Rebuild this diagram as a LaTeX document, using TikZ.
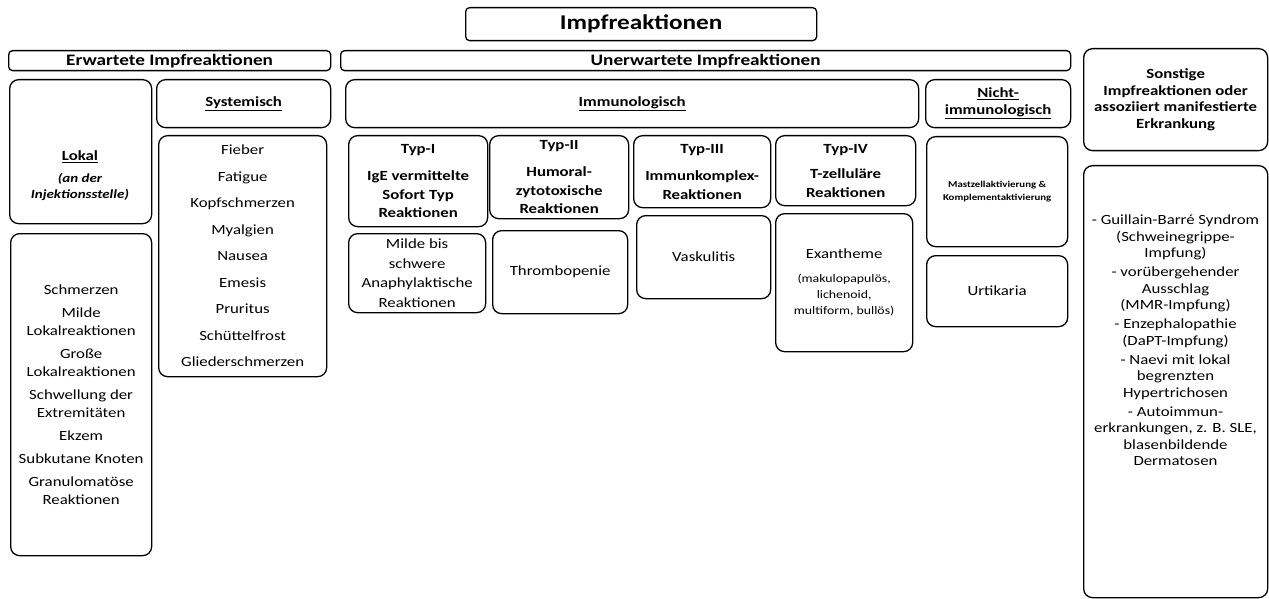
\documentclass[tikz,border=0pt]{standalone}
\usepackage{fontspec}
\setmainfont{Carlito}[FakeStretch=1.2]
\newcommand\fs[2]{\fontsize{#1}{#2}\selectfont}
\newcommand\injf{\bfseries\itshape\fs{12.5}{14.5}}
\newcommand\exf{\fs{11.5}{16.5}}
\newcommand\bx[7]{\node[box,minimum width={(#4-#2)*1pt},minimum height={(#5-#3)*1pt},#6] (#1) at (#2,#3) {#7};}
\tikzset{
 box/.style={draw, line width=1.3pt, rounded corners=9pt, align=center, inner sep=0pt, anchor=north west, font=\fs{14}{18}},
 bar/.style={rounded corners=4pt},
 hd/.style={font=\bfseries\fs{14}{18.5}},
 txt/.style={align=center, inner sep=0pt},
}
\begin{document}
\begin{tikzpicture}[x=1pt,y=-1pt]
\useasboundingbox (0,0) rectangle (1269,599);
% top level
\bx{title}{465}{7}{816}{40}{bar,font=\bfseries\fs{21}{24}}{Impfreaktionen}
\bx{erw}{8}{50}{330}{70}{bar,font=\bfseries\fs{16}{18}}{Erwartete Impfreaktionen}
\bx{unerw}{340}{50}{1070}{70}{bar,font=\bfseries\fs{16}{18}}{Unerwartete Impfreaktionen}
% Erwartete
\bx{lokal}{9}{79}{151}{223}{}{}
\node[txt,font=\fs{14}{16}] (lokaltxt) at (80,176) {\bfseries\underline{Lokal}\\[6pt]\injf(an der\\\injf Injektionsstelle)};
\bx{lokallist}{10}{233}{151}{555}{}{Schmerzen\\[5pt]Milde\\Lokalreaktionen\\[5pt]Große\\Lokalreaktionen\\[5pt]Schwellung der\\Extremitäten\\[5pt]Ekzem\\[5pt]Subkutane Knoten\\[5pt]Granulomatöse\\Reaktionen}
\bx{sys}{156}{79}{330}{127}{hd}{\underline{Systemisch}}
\bx{syslist}{158}{135}{326}{376}{}{Fieber\\[8.5pt]Fatigue\\[8.5pt]Kopfschmerzen\\[8.5pt]Myalgien\\[8.5pt]Nausea\\[8.5pt]Emesis\\[8.5pt]Pruritus\\[8.5pt]Schüttelfrost\\[8.5pt]Gliederschmerzen}
% Unerwartete
\bx{immun}{345}{79}{918}{127}{hd}{\underline{Immunologisch}}
\bx{nicht}{925}{79}{1070}{127}{hd,font=\bfseries\fs{14}{17}}{\underline{Nicht-}\\\underline{immunologisch}}
\bx{typ1}{348}{135}{487}{226}{hd}{Typ-I\\[9pt]IgE vermittelte\\Sofort Typ\\Reaktionen}
\bx{typ2}{489}{135}{628}{218}{hd}{Typ-II\\[9pt]Humoral-\\zytotoxische\\Reaktionen}
\bx{typ3}{633}{135}{770}{207}{hd}{Typ-III\\[9pt]Immunkomplex-\\Reaktionen}
\bx{typ4}{775}{135}{915}{205}{hd}{Typ-IV\\[7pt]T-zelluläre\\Reaktionen}
\bx{milde}{348}{233}{485}{312}{font=\fs{14}{19.5}}{Milde bis\\schwere\\Anaphylaktische\\Reaktionen}
\bx{thromb}{492}{230}{627}{313}{}{Thrombopenie}
\bx{vask}{636}{215}{770}{298}{}{Vaskulitis}
\bx{exan}{775}{213}{912}{351}{font=\fs{14}{16}}{Exantheme\\[8pt]\exf(makulopapulös,\\\exf lichenoid,\\\exf multiform, bullös)}
\bx{mast}{926}{136}{1067}{246}{font=\bfseries\fs{9}{13}}{Mastzellaktivierung \&\\Komplementaktivierung}
\bx{urti}{926}{255}{1067}{326}{}{Urtikaria}
% Sonstige
\bx{sonst}{1083}{48}{1267}{150}{font=\bfseries\fs{14}{16.7}}{Sonstige\\Impfreaktionen oder\\assoziiert manifestierte\\Erkrankung}
\bx{sonstlist}{1083}{165}{1267}{597}{}{}
\node[txt,font=\fs{14}{16.5}] (sonsttxt) at (1175.5,340.5) {- Guillain-Barré Syndrom\\(Schweinegrippe-\\Impfung)\\[2.5pt]- vorübergehender\\Ausschlag\\(MMR-Impfung)\\[2.5pt]- Enzephalopathie\\(DaPT-Impfung)\\[2.5pt]- Naevi mit lokal\\begrenzten\\Hypertrichosen\\[2.5pt]- Autoimmun-\\erkrankungen, z. B. SLE,\\blasenbildende\\Dermatosen};
\end{tikzpicture}
\end{document}
